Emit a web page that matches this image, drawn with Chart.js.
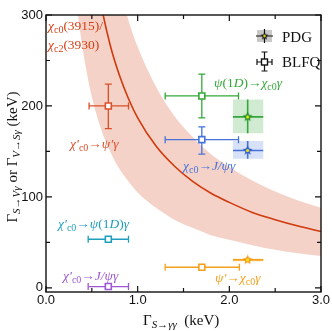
<!DOCTYPE html>
<html>
<head>
<meta charset="utf-8">
<script src="https://cdn.jsdelivr.net/npm/chart.js@4"></script>
<style>
  html, body { margin: 0; padding: 0; background: #fff; }
  #wrap { width: 332px; height: 331px; }
</style>
</head>
<body>
<div id="wrap"><canvas id="chart" width="332" height="331"></canvas></div>
<script>
// band: chi_c0(3915)/chi_c2(3930)
const bandX = [0.3, 0.35, 0.4, 0.5, 0.6, 0.7, 0.8, 0.9, 1.0, 1.2, 1.4, 1.6, 1.8, 2.0, 2.25, 2.5, 2.75, 3.0];
const bandLow = [350, 300, 263, 210, 175, 150, 131, 117, 105, 88, 75, 66, 58, 53, 47, 42, 38, 35];
const bandMid = [623, 534, 468, 374, 312, 267, 234, 208, 187, 156, 134, 117, 104, 94, 83, 75, 68, 62];
const bandHigh = [883, 757, 663, 530, 442, 379, 331, 294, 265, 221, 189, 166, 147, 133, 118, 106, 96, 88];

// BLFQ points
const blfqNames = ['chiP_psiP', 'psi1D_chi', 'chi_Jpsi', 'chiP_psi1D', 'chiP_Jpsi', 'psiP_chi'];
const blfqX = [0.68, 1.70, 1.70, 0.68, 0.68, 1.70];
const blfqXlo = [0.47, 1.30, 1.30, 0.46, 0.46, 1.30];
const blfqXhi = [0.90, 2.10, 2.10, 0.90, 0.90, 2.11];
const blfqY = [200, 211, 163, 53.5, 1.5, 22.7];
const blfqYlo = [175, 187, 147, 53.5, 0, 22.7];
const blfqYhi = [224, 235, 177, 53.5, 4, 22.7];

// PDG points
const pdgNames = ['psi1D_chi', 'chi_Jpsi', 'psiP_chi'];
const pdgX = [2.20, 2.20, 2.20];
const pdgXlo = [2.04, 2.04, 2.04];
const pdgXhi = [2.37, 2.37, 2.37];
const pdgY = [188, 151, 30.8];
const pdgYlo = [170, 142, 29];
const pdgYhi = [207, 161.5, 32.5];

const xTicks = [0, 0.5, 1, 1.5, 2, 2.5, 3];
const xLabels = ['0.0', '', '1.0', '', '2.0', '', '3.0'];
const yTicks = [0, 50, 100, 150, 200, 250, 300];
const yLabels = ['0', '', '100', '', '200', '', '300'];

const colors = {
    chiP_psiP: 'rgb(218,80,42)',
    psi1D_chi: 'rgb(52,168,58)',
    chi_Jpsi: 'rgb(70,114,218)',
    chiP_psi1D: 'rgb(32,158,190)',
    chiP_Jpsi: 'rgb(158,88,212)',
    psiP_chi: 'rgb(246,160,28)'
};
const boxColors = {
    psi1D_chi: 'rgba(58,170,62,0.24)',
    chi_Jpsi: 'rgba(72,118,218,0.22)',
    psiP_chi: 'rgba(246,160,28,0.2)'
};
const starColors = {
    psi1D_chi: 'rgb(30,140,40)',
    chi_Jpsi: 'rgb(50,90,200)',
    psiP_chi: 'rgb(240,150,20)'
};

const makeStar = (fill, size) => {
    const c = document.createElement('canvas');
    c.width = size; c.height = size;
    const g = c.getContext('2d');
    const cx = size / 2, cy = size / 2, R = size / 2 - 0.3, r = R * 0.45;
    g.beginPath();
    for (let i = 0; i < 10; i++) {
        const a = -Math.PI / 2 + i * Math.PI / 5;
        const rr = i % 2 === 0 ? R : r;
        g.lineTo(cx + rr * Math.cos(a), cy + rr * Math.sin(a));
    }
    g.closePath();
    g.fillStyle = fill;
    g.fill();
    g.beginPath();
    g.arc(cx, cy, size * 0.14, 0, Math.PI * 2);
    g.fillStyle = 'rgb(250,240,20)';
    g.fill();
    return c;
};

// rich text: parts of [text, kind] with kind n = upright, i = italic, s = upright sub, si = italic sub
const fontFor = (k, size) => {
    const sub = k === 's' || k === 'si';
    const ital = k === 'i' || k === 'si';
    const fs = sub ? Math.round(size * 0.72) : size;
    return (ital ? 'italic ' : '') + fs + 'px "Liberation Serif", "DejaVu Serif", serif';
};

const drawRich = (ctx, x, y, parts, color, size) => {
    ctx.save();
    ctx.fillStyle = color;
    ctx.textBaseline = 'alphabetic';
    ctx.textAlign = 'left';
    let cx = x;
    parts.forEach(([t, k]) => {
        const sub = k === 's' || k === 'si';
        ctx.font = fontFor(k, size);
        ctx.fillText(t, cx, y + (sub ? size * 0.22 : 0));
        cx += ctx.measureText(t).width;
    });
    ctx.restore();
    return cx - x;
};

const richWidth = (ctx, parts, size) => {
    let w = 0;
    ctx.save();
    parts.forEach(([t, k]) => {
        ctx.font = fontFor(k, size);
        w += ctx.measureText(t).width;
    });
    ctx.restore();
    return w;
};

const texts = [
    { parts: [['χ', 'i'], ['c0', 's'], ['(3915)/', 'n']], color: 'rgb(212,62,22)', x: 48, y: 30 },
    { parts: [['χ', 'i'], ['c2', 's'], ['(3930)', 'n']], color: 'rgb(212,62,22)', x: 48, y: 49 },
    { parts: [['χ′', 'i'], ['c0', 's'], ['→', 'n'], ['ψ′γ', 'i']], color: colors.chiP_psiP, x: 70, y: 148 },
    { parts: [['ψ', 'i'], ['(1', 'n'], ['D', 'i'], [')→', 'n'], ['χ', 'i'], ['c0', 's'], ['γ', 'i']], color: colors.psi1D_chi, x: 214, y: 87 },
    { parts: [['χ', 'i'], ['c0', 's'], ['→', 'n'], ['J/ψγ', 'i']], color: colors.chi_Jpsi, x: 183, y: 170 },
    { parts: [['χ′', 'i'], ['c0', 's'], ['→', 'n'], ['ψ', 'i'], ['(1', 'n'], ['D', 'i'], [')', 'n'], ['γ', 'i']], color: colors.chiP_psi1D, x: 58, y: 228 },
    { parts: [['χ′', 'i'], ['c0', 's'], ['→', 'n'], ['J/ψγ', 'i']], color: colors.chiP_Jpsi, x: 63, y: 280 },
    { parts: [['ψ′', 'i'], ['→', 'n'], ['χ', 'i'], ['c0', 's'], ['γ', 'i']], color: colors.psiP_chi, x: 215, y: 282 }
];

const errBar = (ctx, x1, y1, x2, y2, cap, vertCap) => {
    ctx.beginPath();
    ctx.moveTo(x1, y1); ctx.lineTo(x2, y2);
    if (vertCap) {
        ctx.moveTo(x1, y1 - cap); ctx.lineTo(x1, y1 + cap);
        ctx.moveTo(x2, y2 - cap); ctx.lineTo(x2, y2 + cap);
    } else {
        ctx.moveTo(x1 - cap, y1); ctx.lineTo(x1 + cap, y1);
        ctx.moveTo(x2 - cap, y2); ctx.lineTo(x2 + cap, y2);
    }
    ctx.stroke();
};

const midCurve = 2;

const deco = {
    id: 'deco',
    afterDatasetDraw(chart, args) {
        if (args.index !== midCurve) return;
        const { ctx, scales: { x, y } } = chart;
        ctx.save();
        // PDG boxes and bars
        pdgNames.forEach((n, i) => {
            const l = x.getPixelForValue(pdgXlo[i]), r = x.getPixelForValue(pdgXhi[i]);
            const t = y.getPixelForValue(pdgYhi[i]), b = y.getPixelForValue(pdgYlo[i]);
            ctx.fillStyle = boxColors[n];
            ctx.fillRect(l, t, r - l, b - t);
            ctx.strokeStyle = colors[n];
            ctx.lineWidth = 1.6;
            const px = x.getPixelForValue(pdgX[i]), py = y.getPixelForValue(pdgY[i]);
            ctx.beginPath();
            ctx.moveTo(l, py); ctx.lineTo(r, py);
            ctx.moveTo(px, t); ctx.lineTo(px, b);
            ctx.stroke();
        });
        // BLFQ bars
        blfqNames.forEach((n, i) => {
            ctx.strokeStyle = colors[n];
            ctx.lineWidth = 1.3;
            const px = x.getPixelForValue(blfqX[i]), py = y.getPixelForValue(blfqY[i]);
            errBar(ctx, x.getPixelForValue(blfqXlo[i]), py, x.getPixelForValue(blfqXhi[i]), py, 3.5, true);
            if (blfqYhi[i] - blfqYlo[i] > 0) {
                errBar(ctx, px, y.getPixelForValue(blfqYhi[i]), px, y.getPixelForValue(blfqYlo[i]), 3.5, false);
            }
        });
        ctx.restore();
    },
    afterDraw(chart) {
        const { ctx, chartArea: a, scales: { x, y } } = chart;
        ctx.save();
        // frame
        ctx.strokeStyle = '#111';
        ctx.lineWidth = 1.4;
        ctx.strokeRect(a.left, a.top, a.right - a.left, a.bottom - a.top);
        ctx.lineWidth = 1.2;
        ctx.beginPath();
        xTicks.forEach((v, i) => {
            const px = x.getPixelForValue(v);
            const len = xLabels[i] ? 6 : 4;
            ctx.moveTo(px, a.bottom); ctx.lineTo(px, a.bottom - len);
            ctx.moveTo(px, a.top); ctx.lineTo(px, a.top + len);
        });
        yTicks.forEach((v, i) => {
            const py = y.getPixelForValue(v);
            const len = yLabels[i] ? 6 : 4;
            ctx.moveTo(a.left, py); ctx.lineTo(a.left + len, py);
            ctx.moveTo(a.right, py); ctx.lineTo(a.right - len, py);
        });
        ctx.stroke();
        // tick labels
        ctx.fillStyle = '#111';
        ctx.font = '13px "Liberation Sans", Arial, sans-serif';
        ctx.textAlign = 'center';
        ctx.textBaseline = 'middle';
        xTicks.forEach((v, i) => {
            if (xLabels[i]) ctx.fillText(xLabels[i], x.getPixelForValue(v), a.bottom + 8);
        });
        ctx.textAlign = 'right';
        yTicks.forEach((v, i) => {
            if (yLabels[i]) ctx.fillText(yLabels[i], a.left - 3, y.getPixelForValue(v));
        });
        // axis titles
        const xt = [['Γ', 'n'], ['S→γγ', 'si'], ['  (keV)', 'n']];
        drawRich(ctx, 143, 325, xt, '#111', 15);
        const yt = [['Γ', 'n'], ['S→Vγ', 'si'], [' or ', 'n'], ['Γ', 'n'], ['V→Sγ', 'si'], [' (keV)', 'n']];
        const yw = richWidth(ctx, yt, 15);
        ctx.save();
        ctx.translate(17, 157);
        ctx.rotate(-Math.PI / 2);
        drawRich(ctx, -yw / 2, 0, yt, '#111', 15);
        ctx.restore();
        // labels
        texts.forEach(t => drawRich(ctx, t.x, t.y, t.parts, t.color, 13.5));
        // legend
        ctx.fillStyle = 'rgb(200,200,200)';
        ctx.fillRect(257, 30, 15, 12);
        ctx.strokeStyle = '#111';
        ctx.lineWidth = 1.2;
        ctx.beginPath();
        ctx.moveTo(256, 36); ctx.lineTo(273, 36);
        ctx.moveTo(264.5, 29); ctx.lineTo(264.5, 43);
        ctx.stroke();
        ctx.drawImage(makeStar('#111', 9), 260, 31.5);
        errBar(ctx, 257, 62, 272, 62, 3, true);
        errBar(ctx, 264.5, 52, 264.5, 71, 3, false);
        ctx.fillStyle = '#fff';
        ctx.fillRect(261.5, 59, 6, 6);
        ctx.lineWidth = 1.4;
        ctx.strokeRect(261.5, 59, 6, 6);
        ctx.fillStyle = '#111';
        ctx.font = '15px "Liberation Serif", "DejaVu Serif", serif';
        ctx.textAlign = 'left';
        ctx.textBaseline = 'middle';
        ctx.fillText('PDG', 282, 38);
        ctx.fillText('BLFQ', 282, 63);
        ctx.restore();
    }
};

const pts = (xs, ys) => xs.map((v, i) => ({ x: v, y: ys[i] }));

const datasets = [
    { data: pts(bandX, bandHigh), order: 12, showLine: true, pointRadius: 0, borderWidth: 0, borderColor: 'rgba(0,0,0,0)', cubicInterpolationMode: 'monotone', fill: false },
    { data: pts(bandX, bandLow), order: 11, showLine: true, pointRadius: 0, borderWidth: 0, borderColor: 'rgba(0,0,0,0)', cubicInterpolationMode: 'monotone', fill: 0, backgroundColor: 'rgb(245,210,199)' },
    { data: pts(bandX, bandMid), order: 10, showLine: true, pointRadius: 0, borderWidth: 1.6, borderColor: 'rgb(208,58,14)', cubicInterpolationMode: 'monotone', fill: false }
];
blfqNames.forEach((n, i) => {
    datasets.push({
        data: [{ x: blfqX[i], y: blfqY[i] }],
        order: 1,
        pointStyle: 'rect', pointRadius: 4.2, borderWidth: 1.6,
        borderColor: colors[n], backgroundColor: '#fff'
    });
});
pdgNames.forEach((n, i) => {
    datasets.push({
        data: [{ x: pdgX[i], y: pdgY[i] }],
        order: 0,
        pointStyle: makeStar(starColors[n], 11), pointRadius: 5
    });
});

new Chart(document.getElementById('chart'), {
    type: 'scatter',
    data: { datasets },
    options: {
        responsive: false,
        animation: false,
        events: [],
        layout: { padding: { left: 46, right: 11, top: 15, bottom: 39 } },
        plugins: { legend: { display: false }, tooltip: { enabled: false } },
        scales: {
            x: { type: 'linear', min: 0, max: 3, display: false },
            y: { type: 'linear', min: -4.5, max: 300, display: false }
        }
    },
    plugins: [deco]
});
</script>
</body>
</html>
